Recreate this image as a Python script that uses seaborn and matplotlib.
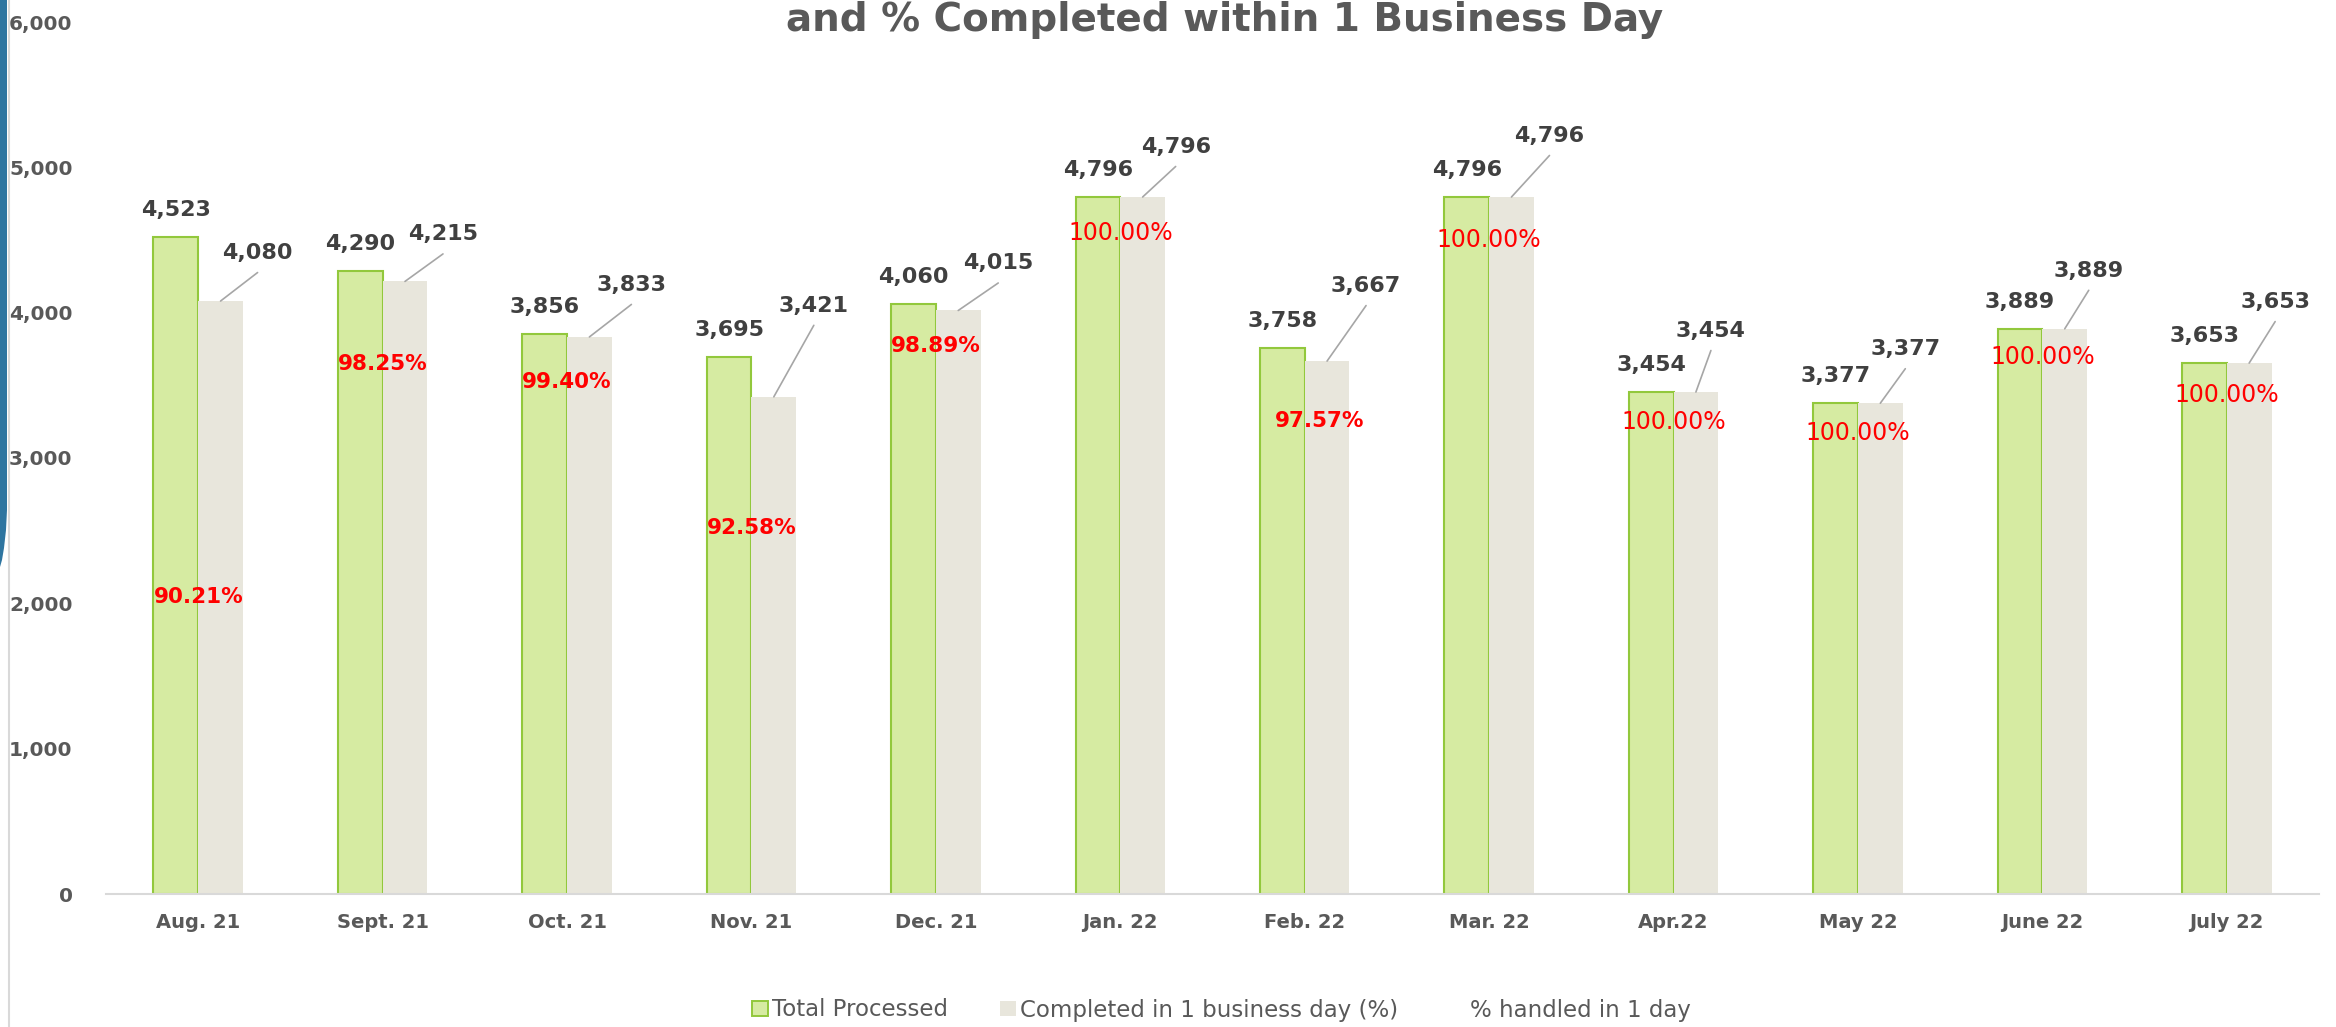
import matplotlib
matplotlib.use("Agg")
import matplotlib.pyplot as plt
import seaborn as sns
import pandas as pd
from matplotlib.patches import Patch, Polygon
from matplotlib.lines import Line2D
from matplotlib.ticker import FuncFormatter

# data
months = ["Aug. 21", "Sept. 21", "Oct. 21", "Nov. 21", "Dec. 21", "Jan. 22",
          "Feb. 22", "Mar. 22", "Apr.22", "May 22", "June 22", "July 22"]
total_processed = [4523, 4290, 3856, 3695, 4060, 4796, 3758, 4796, 3454, 3377, 3889, 3653]
completed_1day = [4080, 4215, 3833, 3421, 4015, 4796, 3667, 4796, 3454, 3377, 3889, 3653]
pct_handled = [90.21, 98.25, 99.40, 92.58, 98.89, 100.00, 97.57, 100.00,
               100.00, 100.00, 100.00, 100.00]

series_names = ["Total Processed", "Completed in 1 business day (%)", "% handled in 1 day"]
title = "and % Completed within 1 Business Day"

W, H = 2336, 1027
GREEN = "#D6EBA2"
GREEN_EDGE = "#92C83C"
GREY = "#E8E6DC"
TEXT = "#595959"
LABEL = "#404040"

df = pd.DataFrame({
    "month": months * 2,
    "value": total_processed + completed_1day,
    "series": [series_names[0]] * len(months) + [series_names[1]] * len(months),
})

sns.set_style("white")
plt.rcParams["font.family"] = ["DejaVu Sans"]

fig = plt.figure(figsize=(W / 100, H / 100), dpi=100)
ax = fig.add_axes([106 / W, 133 / H, 2213 / W, 872 / H])

sns.barplot(
    data=df, x="month", y="value", hue="series",
    palette=[GREEN, GREY], width=0.485, saturation=1,
    legend=False, ax=ax,
)

for p in ax.containers[0]:
    p.set_edgecolor(GREEN_EDGE)
    p.set_linewidth(1.5)
for p in ax.containers[1]:
    p.set_edgecolor("none")

ax.set_ylim(0, 6000)
ax.set_xlim(-0.5, len(months) - 0.5)
ax.set_yticks(range(0, 6001, 1000))
ax.yaxis.set_major_formatter(FuncFormatter(lambda v, _: f"{int(v):,}"))
ax.set_xlabel("")
ax.set_ylabel("")

sns.despine(ax=ax, left=True)
ax.spines["bottom"].set_color("#D9D9D9")
ax.spines["bottom"].set_linewidth(1.5)

ax.tick_params(axis="y", length=0, pad=24, labelsize=14.5, labelcolor=TEXT)
ax.tick_params(axis="x", length=0, pad=14, labelsize=14, labelcolor=TEXT)
for lbl in ax.get_xticklabels() + ax.get_yticklabels():
    lbl.set_fontweight("bold")

# value labels on green bars
for p in ax.containers[0]:
    x = p.get_x() + p.get_width() / 2
    v = p.get_height()
    ax.annotate(f"{int(v):,}", xy=(x, v), xytext=(0, 27), textcoords="offset pixels",
                ha="center", va="center", fontsize=16, fontweight="bold", color=LABEL)

# value labels on grey bars, pulled up-right with a leader line
grey_label_dx = [37, 38, 42, 40, 40, 33, 39, 38, 15, 25, 24, 26]
grey_label_dy = [48, 47, 52, 91, 47, 50, 75, 61, 61, 54, 58, 61]
for p, dx, dy in zip(ax.containers[1], grey_label_dx, grey_label_dy):
    x = p.get_x() + p.get_width() / 2
    v = p.get_height()
    ax.annotate("", xy=(x, v), xytext=(dx, dy - 19.5), textcoords="offset pixels",
                arrowprops=dict(arrowstyle="-", color="#A6A6A6", lw=1.2,
                                shrinkA=0, shrinkB=0))
    ax.annotate(f"{int(v):,}", xy=(x, v), xytext=(dx, dy), textcoords="offset pixels",
                ha="center", va="center", fontsize=16, fontweight="bold", color=LABEL)

# "% handled in 1 day" labels (hand placed in the original)
pct_label_y = [2044, 3647, 3523, 2518, 3771, 4548, 3255, 4500, 3248, 3172, 3695, 3434]
pct_label_dx = [0, 0, 0, 0, 0, 0, 15, 0, 0, 0, 0, 0]
for i, (pct, y, dx) in enumerate(zip(pct_handled, pct_label_y, pct_label_dx)):
    full = pct >= 100
    ax.annotate(f"{pct:.2f}%", xy=(i, y), xytext=(dx, 0), textcoords="offset pixels",
                ha="center", va="center", color="#FF0000",
                fontsize=17 if full else 15.5,
                fontweight="normal" if full else "bold")

fig.text(1225 / W, 1 - 31 / H, title, ha="center", va="baseline",
         fontsize=28, fontweight="bold", color=TEXT)

handles = [
    Patch(facecolor=GREEN, edgecolor=GREEN_EDGE, linewidth=1.4),
    Patch(facecolor=GREY, edgecolor="none"),
    Line2D([], [], color="none"),
]
fig.legend(handles, series_names, loc="center", bbox_to_anchor=(1221.5 / W, 17 / H),
           ncol=3, frameon=False, fontsize=16.5, handlelength=0.7, handleheight=0.65,
           handletextpad=0.15, columnspacing=2.3, labelcolor=TEXT)

# slide decoration on the left edge
fig.add_artist(Line2D([9 / W, 9 / W], [0, 1], transform=fig.transFigure,
                      color="#D9D9D9", lw=1.5))
deco = [(0, 0), (7, 0), (7, 510), (6, 530), (4, 548), (2, 560), (0, 567)]
fig.add_artist(Polygon([(px / W, 1 - py / H) for px, py in deco], closed=True,
                       transform=fig.transFigure, facecolor="#2E75A0", edgecolor="none"))

fig.savefig("out.png", dpi=100)
